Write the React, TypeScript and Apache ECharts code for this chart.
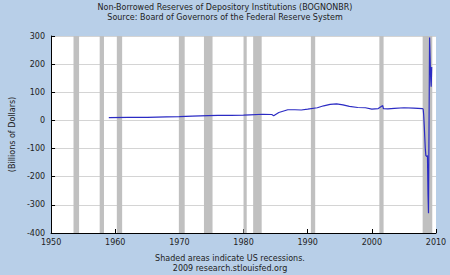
import React, { useEffect, useRef } from "react";
import * as echarts from "echarts";

const titleLines = [
  "Non-Borrowed Reserves of Depository Institutions (BOGNONBR)",
  "Source: Board of Governors of the Federal Reserve System",
];
const footLines = ["Shaded areas indicate US recessions.", "2009 research.stlouisfed.org"];
const yAxisName = "(Billions of Dollars)";

const years = [
  1959.0, 1962.0, 1965.0, 1968.0, 1970.0, 1972.0, 1974.5, 1976.0, 1978.0, 1980.0,
  1981.0, 1983.0, 1984.4, 1984.7, 1985.5, 1986.9, 1988.0, 1989.0, 1990.0, 1991.5,
  1992.5, 1993.5, 1994.5, 1995.5, 1996.5, 1997.8, 1999.0, 2000.0, 2001.0, 2001.7,
  2001.8, 2002.5, 2003.5, 2005.0, 2006.5, 2007.9, 2008.0, 2008.08, 2008.17, 2008.25,
  2008.33, 2008.42, 2008.5, 2008.58, 2008.67, 2008.75, 2008.83, 2009.0, 2009.08, 2009.17,
  2009.25, 2009.33,
];
const reserves = [
  10, 10.5, 11, 12.5, 13.5, 15, 17, 18, 18, 18.5,
  20, 22, 21, 17, 28, 38, 38, 37, 40, 45,
  52, 57, 59, 55, 50, 46, 45, 40, 42, 53,
  42, 41, 43, 45, 44, 42, 40, 20, -20, -60,
  -100, -125, -125, -128, -125, -260, -330, 295, 225, 150,
  120, 190,
];

const recessionStart = [1953.5, 1957.58, 1960.25, 1969.92, 1973.83, 1980.0, 1981.5, 1990.5, 2001.17, 2007.92];
const recessionEnd = [1954.37, 1958.25, 1961.08, 1970.83, 1975.17, 1980.5, 1982.83, 1991.17, 2001.83, 2009.42];

const FONT = "DejaVu Sans";

export default function App() {
  const ref = useRef<HTMLDivElement>(null);
  useEffect(() => {
    if (!ref.current) return;
    const chart = echarts.init(ref.current, null, { renderer: "svg" });
    const data = years.map((y, i) => [y, reserves[i]]);
    const areas = recessionStart.map((s, i) => [{ xAxis: s }, { xAxis: recessionEnd[i] }]);
    chart.setOption({
      animation: false,
      backgroundColor: "#b8cfe8",
      textStyle: { fontFamily: FONT },
      grid: { left: 49, right: 14, top: 36, bottom: 42, show: true, backgroundColor: "#ffffff", borderWidth: 0 },
      graphic: [
        ...titleLines.map((t, i) => ({
          type: "text",
          x: 225,
          y: 7 + i * 10,
          style: { text: t, fill: "#222", font: `8px "${FONT}"`, textAlign: "center", textVerticalAlign: "middle" },
        })),
        ...footLines.map((t, i) => ({
          type: "text",
          x: 230,
          y: 258 + i * 10.5,
          style: { text: t, fill: "#222", font: `8px "${FONT}"`, textAlign: "center", textVerticalAlign: "middle" },
        })),
      ],
      xAxis: {
        type: "value",
        min: 1950,
        max: 2010,
        interval: 10,
        axisLine: { onZero: false, lineStyle: { color: "#000", width: 1 } },
        axisTick: { inside: true, length: 4, lineStyle: { color: "#000" } },
        axisLabel: { color: "#222", fontSize: 8, margin: 5, fontFamily: FONT, formatter: (v: number) => String(v) },
        splitLine: { show: false },
      },
      yAxis: {
        type: "value",
        min: -400,
        max: 300,
        interval: 100,
        name: yAxisName,
        nameLocation: "middle",
        nameGap: 33,
        nameTextStyle: { color: "#222", fontSize: 8, fontFamily: FONT },
        axisLine: { show: true, lineStyle: { color: "#000", width: 1 } },
        axisTick: { show: true, inside: true, length: 4, lineStyle: { color: "#000" } },
        axisLabel: { color: "#222", fontSize: 8, margin: 6, fontFamily: FONT },
        splitLine: { show: true, lineStyle: { color: "#d4d4d4", width: 1 } },
      },
      series: [
        {
          type: "line",
          data,
          showSymbol: false,
          lineStyle: { color: "#2b2bc4", width: 1.2 },
          markArea: {
            silent: true,
            itemStyle: { color: "#c0c0c0", opacity: 1 },
            data: areas,
          },
        },
      ],
    });
    return () => chart.dispose();
  }, []);
  return <div ref={ref} style={{ width: 450, height: 275, position: "absolute", left: 0, top: 0 }} />;
}
